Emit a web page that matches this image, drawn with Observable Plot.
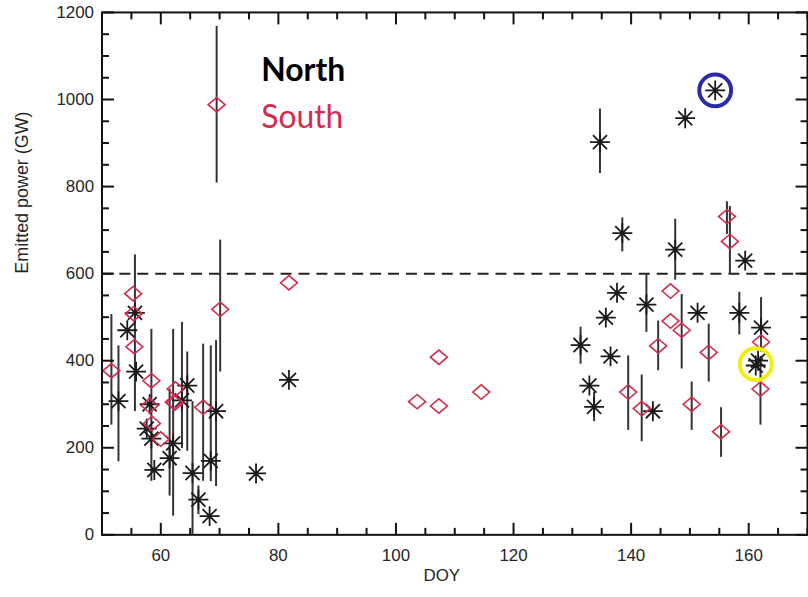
<!DOCTYPE html>
<html>
<head>
<meta charset="utf-8">
<script src="https://cdn.jsdelivr.net/npm/d3@7"></script>
<script src="https://cdn.jsdelivr.net/npm/@observablehq/plot@0.6"></script>
<style>
  html, body { margin: 0; padding: 0; background: #fff; overflow: hidden; }
</style>
</head>
<body>
<div id="chart"></div>
<script>
// North (asterisks): day of year, emitted power (GW), error bar low / high (null = none)
const northDoy   = [52.8, 54.3, 55.6, 55.8, 57.6, 58.1, 58.4, 58.9, 61.5, 62.1, 63.6, 64.5, 65.4, 66.4, 68.3, 68.5, 69.4, 76.2, 81.8,
                    131.4, 132.9, 133.7, 134.7, 135.7, 136.5, 137.6, 138.5, 142.6, 143.7, 147.5, 149.2, 151.3, 154.3, 158.4, 159.4, 161.2, 161.6, 162.1];
const northPower = [307, 470, 510, 375, 244, 300, 221, 149, 176, 210, 309, 343, 142, 81, 43, 170, 284, 141, 356,
                    436, 343, 294, 902, 499, 410, 556, 693, 529, 284, 655, 957, 510, 1021, 510, 630, 389, 400, 476];
const northLow   = [168, null, 283, null, null, null, 123, null, 89, 43, 198, 192, 0, 46, null, 122, 111, null, null,
                    392, null, 260, 830, null, null, null, 650, 465, null, 585, null, null, null, 459, null, null, null, 420];
const northHigh  = [434, null, 643, null, null, null, 472, null, 335, 472, 488, 420, 306, 112, null, 434, 446, null, null,
                    477, null, 328, 978, null, null, null, 728, 600, null, 725, null, null, null, 557, null, null, null, 545];

// South (diamonds)
const southDoy   = [51.6, 55.3, 55.4, 55.5, 58.4, 58.1, 58.5, 60.0, 62.5, 62.4, 62.2, 67.2, 69.5, 70.1, 81.8,
                    103.6, 107.3, 107.3, 114.5, 139.5, 141.8, 144.6, 146.7, 146.7, 148.6, 150.3, 153.2, 155.3, 156.3, 156.8, 162.1, 162.0];
const southPower = [377, 554, 508, 432, 354, 297, 256, 220, 335, 303, 305, 293, 988, 518, 579,
                    306, 408, 296, 328, 328, 290, 434, 560, 491, 470, 300, 419, 237, 731, 674, 443, 335];
const southLow   = [252, null, null, null, null, null, null, null, null, null, null, 123, 808, 374, null,
                    null, null, null, null, 240, 214, 377, null, null, 381, 240, 351, 178, 690, 598, null, 252];
const southHigh  = [506, null, null, null, null, null, null, null, null, null, null, 438, 1168, 677, null,
                    null, null, null, null, 411, 367, 491, null, null, 552, 351, 484, 292, 765, 754, null, 410];

// Highlighted events (circled)
const hlDoy   = [154.3, 161.2];
const hlPower = [1021, 392];
const hlColor = ["#2b2ba8", "#eeee10"];

// Axes
const xMajor = [60, 80, 100, 120, 140, 160];
const xMinor = d3.range(50, 171, 5).filter(v => !xMajor.includes(v));
const yMajor = [0, 200, 400, 600, 800, 1000, 1200];
const yMinor = d3.range(0, 1201, 50).filter(v => !yMajor.includes(v));
const threshold = [600];
const legendLabels = ["North", "South"];

const north = northDoy.map((d, i) => ({doy: d, power: northPower[i], lo: northLow[i], hi: northHigh[i]}));
const south = southDoy.map((d, i) => ({doy: d, power: southPower[i], lo: southLow[i], hi: southHigh[i]}));
const hl = hlDoy.map((d, i) => ({doy: d, power: hlPower[i], color: hlColor[i]}));

// 8-armed asterisk (IDL psym=2 style)
const asterisk = {
  draw(ctx, size) {
    const r = Math.sqrt(size / Math.PI);
    for (let k = 0; k < 4; k++) {
      const a = k * Math.PI / 4;
      const dx = r * Math.cos(a), dy = r * Math.sin(a);
      ctx.moveTo(-dx, -dy);
      ctx.lineTo(dx, dy);
    }
  }
};
// wide diamond (IDL psym=4 style)
const diamond = {
  draw(ctx, size) {
    const r = Math.sqrt(size / Math.PI);
    const h = r * 0.85;
    ctx.moveTo(-r, 0);
    ctx.lineTo(0, -h);
    ctx.lineTo(r, 0);
    ctx.lineTo(0, h);
    ctx.closePath();
  }
};
// inward tick glyphs: a short segment starting at the frame edge
const tickGlyph = (ux, uy) => ({
  draw(ctx, size) {
    const r = Math.sqrt(size / Math.PI);
    ctx.moveTo(0, 0);
    ctx.lineTo(ux * r, uy * r);
  }
});
const tRight = tickGlyph(1, 0), tLeft = tickGlyph(-1, 0), tUp = tickGlyph(0, -1), tDown = tickGlyph(0, 1);

const W = 812, H = 597, mL = 102, mR = 1, mT = 12, mB = 60;
const tk = {stroke: "#111", strokeWidth: 2};

const chart = Plot.plot({
  width: W, height: H,
  marginLeft: mL, marginRight: mR, marginTop: mT, marginBottom: mB,
  x: {domain: [50, 170]},
  y: {domain: [0, 1200]},
  style: {fontFamily: "'Liberation Sans', Arial, sans-serif", fontSize: "17px", color: "#262626", background: "#fff"},
  marks: [
    // tick labels
    Plot.axisX({ticks: xMajor, tickSize: 0, tickPadding: 14, label: null, tickFormat: d => String(d)}),
    Plot.axisY({ticks: yMajor, tickSize: 0, tickPadding: 8, label: null, tickFormat: d => String(d)}),
    // threshold
    Plot.ruleY(threshold, {stroke: "#222", strokeWidth: 2, strokeDasharray: "11,7"}),
    // error bars
    Plot.ruleX(north.filter(d => d.lo != null), {x: "doy", y1: "lo", y2: "hi", stroke: "#333", strokeWidth: 2}),
    Plot.ruleX(south.filter(d => d.lo != null), {x: "doy", y1: "lo", y2: "hi", stroke: "#333", strokeWidth: 2}),
    // points
    Plot.dot(north, {x: "doy", y: "power", symbol: asterisk, r: 10, stroke: "#1a1a1a", strokeWidth: 1.8, fill: "none"}),
    Plot.dot(south, {x: "doy", y: "power", symbol: diamond, r: 8.5, stroke: "#d62a4c", strokeWidth: 1.6, fill: "none"}),
    // highlight circles
    Plot.dot(hl, {x: "doy", y: "power", r: 16, stroke: "color", strokeWidth: 4, fill: "none"}),
    // frame
    Plot.frame({stroke: "#111", strokeWidth: 2}),
    // inward ticks on all four sides
    Plot.dot(yMajor, {y: d => d, frameAnchor: "left", symbol: tRight, r: 12, ...tk}),
    Plot.dot(yMinor, {y: d => d, frameAnchor: "left", symbol: tRight, r: 7, ...tk}),
    Plot.dot(yMajor, {y: d => d, frameAnchor: "right", symbol: tLeft, r: 12, ...tk}),
    Plot.dot(yMinor, {y: d => d, frameAnchor: "right", symbol: tLeft, r: 7, ...tk}),
    Plot.dot(xMajor, {x: d => d, frameAnchor: "bottom", symbol: tUp, r: 12, ...tk}),
    Plot.dot(xMinor, {x: d => d, frameAnchor: "bottom", symbol: tUp, r: 7, ...tk}),
    Plot.dot(xMajor, {x: d => d, frameAnchor: "top", symbol: tDown, r: 12, ...tk}),
    Plot.dot(xMinor, {x: d => d, frameAnchor: "top", symbol: tDown, r: 7, ...tk}),
    // axis titles
    Plot.text(["DOY"], {frameAnchor: "bottom", dy: 46, dx: -13, fontSize: 17}),
    Plot.text(["Emitted power (GW)"], {frameAnchor: "left", rotate: -90, dx: -80, fontSize: 18}),
    // legend
    Plot.text([legendLabels[0]], {frameAnchor: "top-left", dx: 160, dy: 46, textAnchor: "start", fontSize: 32, fontWeight: "bold", fill: "#000", fontFamily: "Lato, sans-serif"}),
    Plot.text([legendLabels[1]], {frameAnchor: "top-left", dx: 160, dy: 93, textAnchor: "start", fontSize: 32, fill: "#d62a4c", fontFamily: "Lato, sans-serif"})
  ]
});
document.getElementById("chart").appendChild(chart);
</script>
</body>
</html>
